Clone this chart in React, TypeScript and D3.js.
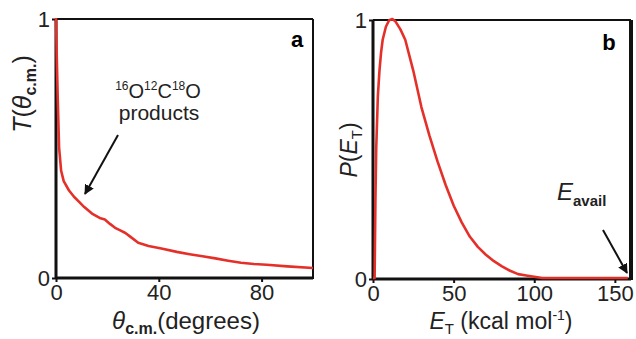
import React, { useEffect, useRef } from "react";
import * as d3 from "d3";

// panel a: angular distribution T(theta)
const thetaA = [0, 0.3, 0.7, 1.2, 2, 3, 5, 7, 9, 11, 14, 17, 19, 21, 23, 25, 27, 29, 32, 36, 41, 47, 52, 57, 62, 67, 72, 77, 82, 90, 100];
const tA = [1, 0.85, 0.68, 0.5, 0.41, 0.37, 0.335, 0.31, 0.29, 0.27, 0.245, 0.228, 0.222, 0.205, 0.19, 0.18, 0.17, 0.155, 0.132, 0.12, 0.11, 0.097, 0.088, 0.08, 0.072, 0.063, 0.055, 0.05, 0.047, 0.041, 0.035];

// panel b: translational energy distribution P(E_T)
const energyB = [0, 1, 1.5, 2, 3, 4, 5, 6, 8, 10, 12, 14, 17, 20, 25, 30, 35, 40, 45, 50, 55, 60, 65, 70, 75, 80, 85, 90, 95, 100, 105, 158];
const pB = [0, 0, 0.3, 0.5, 0.7, 0.8, 0.87, 0.92, 0.97, 0.995, 1, 0.99, 0.96, 0.92, 0.8, 0.66, 0.55, 0.45, 0.36, 0.28, 0.215, 0.16, 0.12, 0.09, 0.065, 0.045, 0.028, 0.015, 0.01, 0.005, 0, 0];

const ticksA = [0, 40, 80];
const ticksB = [0, 50, 100, 150];
const ticksY = [0, 1];

const RED = "#e5302a";
const FONT = "'Liberation Sans', Arial, sans-serif";

const App: React.FC = () => {
  const svgRef = useRef<SVGSVGElement | null>(null);

  useEffect(() => {
    const svg = d3.select(svgRef.current);
    svg.selectAll("*").remove();

    const defs = svg.append("defs");
    defs
      .append("marker")
      .attr("id", "arr")
      .attr("viewBox", "0 0 10 10")
      .attr("refX", 9)
      .attr("refY", 5)
      .attr("markerWidth", 5)
      .attr("markerHeight", 5)
      .attr("orient", "auto")
      .append("path")
      .attr("d", "M0,0L10,5L0,10z")
      .attr("fill", "#111");

    const panel = (
      left: number,
      right: number,
      top: number,
      bottom: number,
      xMax: number,
      xs: number[],
      ys: number[],
      ticks: number[],
      rightW: number
    ) => {
      const x = d3.scaleLinear().domain([0, xMax]).range([left, right]);
      const y = d3.scaleLinear().domain([0, 1]).range([bottom, top]);
      const g = svg.append("g");

      // frame: top/right thinner, left/bottom axes thicker
      g.append("line").attr("x1", left).attr("x2", right).attr("y1", top).attr("y2", top)
        .attr("stroke", "#111").attr("stroke-width", 2);
      g.append("line").attr("x1", right).attr("x2", right).attr("y1", top).attr("y2", bottom + 1)
        .attr("stroke", "#111").attr("stroke-width", rightW);

      const xAxis = g
        .append("g")
        .attr("transform", `translate(0,${bottom})`)
        .call(d3.axisBottom(x).tickValues(ticks).tickSize(4).tickFormat(d3.format("d")));
      xAxis.select(".domain").attr("stroke", "#111").attr("stroke-width", 3).attr("d", `M${left},0H${right}`);
      xAxis.selectAll(".tick line").attr("stroke", "#111").attr("stroke-width", 2);
      xAxis.selectAll(".tick text").attr("font-family", FONT).attr("font-size", 22).attr("fill", "#222").attr("dy", "0.92em").attr("y", 2);

      const yAxis = g
        .append("g")
        .attr("transform", `translate(${left},0)`)
        .call(d3.axisLeft(y).tickValues(ticksY).tickSize(4).tickFormat(d3.format("d")));
      yAxis.select(".domain").attr("stroke", "#111").attr("stroke-width", 3).attr("d", `M0,${bottom}V${top}`);
      yAxis.selectAll(".tick line").attr("stroke", "#111").attr("stroke-width", 2);
      yAxis.selectAll(".tick text").attr("font-family", FONT).attr("font-size", 22).attr("fill", "#222").attr("x", -6);

      const line = d3
        .line<number>()
        .x((_, i) => x(xs[i]))
        .y((d) => y(d) - 1);
      g.append("path")
        .datum(ys)
        .attr("d", line)
        .attr("fill", "none")
        .attr("stroke", RED)
        .attr("stroke-width", 2.6)
        .attr("stroke-linejoin", "round");

      return { x, y, g };
    };

    // ---- panel a
    const a = panel(56, 313, 19, 278, 100, thetaA, tA, ticksA, 2);
    a.g.append("text").attr("x", 297).attr("y", 47).attr("text-anchor", "middle")
      .attr("font-family", FONT).attr("font-size", 22).attr("font-weight", "bold").text("a");

    const yt = a.g.append("text")
      .attr("transform", "translate(31,94) rotate(-90)")
      .attr("text-anchor", "middle").attr("font-family", FONT).attr("font-size", 25).attr("fill", "#222");
    yt.append("tspan").attr("font-style", "italic").text("T");
    yt.append("tspan").text("(");
    yt.append("tspan").attr("font-style", "italic").text("θ");
    yt.append("tspan").attr("font-size", 16).attr("font-weight", "bold").attr("dy", 5).text("c.m.");
    yt.append("tspan").attr("dy", -5).text(")");

    const xt = a.g.append("text").attr("x", 186).attr("y", 329).attr("text-anchor", "middle")
      .attr("font-family", FONT).attr("font-size", 24).attr("fill", "#222");
    xt.append("tspan").attr("font-style", "italic").text("θ");
    xt.append("tspan").attr("font-size", 16).attr("font-weight", "bold").attr("dy", 5).text("c.m.");
    xt.append("tspan").attr("dy", -5).text("(degrees)");

    const iso = a.g.append("text").attr("x", 158).attr("y", 98).attr("text-anchor", "middle")
      .attr("font-family", FONT).attr("font-size", 20).attr("fill", "#222");
    [["16", "O"], ["12", "C"], ["18", "O"]].forEach(([m, el]) => {
      iso.append("tspan").attr("font-size", 12).attr("dy", -8).text(m);
      iso.append("tspan").attr("dy", 8).text(el);
    });
    a.g.append("text").attr("x", 159).attr("y", 120).attr("text-anchor", "middle")
      .attr("font-family", FONT).attr("font-size", 21).attr("fill", "#222").text("products");
    a.g.append("line").attr("x1", 118).attr("y1", 135).attr("x2", 85).attr("y2", 194)
      .attr("stroke", "#111").attr("stroke-width", 2).attr("marker-end", "url(#arr)");

    // ---- panel b
    const b = panel(373, 631, 20, 279, 160, energyB, pB, ticksB, 4);
    b.g.append("text").attr("x", 609).attr("y", 50).attr("text-anchor", "middle")
      .attr("font-family", FONT).attr("font-size", 22).attr("font-weight", "bold").text("b");

    const pt = b.g.append("text")
      .attr("transform", "translate(357,150) rotate(-90)")
      .attr("text-anchor", "middle").attr("font-family", FONT).attr("font-size", 23).attr("fill", "#222");
    pt.append("tspan").attr("font-style", "italic").text("P");
    pt.append("tspan").text("(");
    pt.append("tspan").attr("font-style", "italic").text("E");
    pt.append("tspan").attr("font-size", 15).attr("dy", 5).text("T");
    pt.append("tspan").attr("dy", -5).text(")");

    const et = b.g.append("text").attr("x", 501).attr("y", 329).attr("text-anchor", "middle")
      .attr("font-family", FONT).attr("font-size", 23).attr("fill", "#222");
    et.append("tspan").attr("font-style", "italic").text("E");
    et.append("tspan").attr("font-size", 15).attr("dy", 5).text("T");
    et.append("tspan").attr("dy", -5).text(" (kcal mol");
    et.append("tspan").attr("font-size", 14).attr("dy", -9).text("-1");
    et.append("tspan").attr("dy", 9).text(")");

    const ea = b.g.append("text").attr("x", 557).attr("y", 200)
      .attr("font-family", FONT).attr("font-size", 24).attr("fill", "#222");
    ea.append("tspan").attr("font-style", "italic").text("E");
    ea.append("tspan").attr("font-size", 15).attr("font-weight", "bold").attr("dy", 6).text("avail");
    b.g.append("line").attr("x1", 603).attr("y1", 230).attr("x2", 627).attr("y2", 273)
      .attr("stroke", "#111").attr("stroke-width", 2).attr("marker-end", "url(#arr)");
  }, []);

  return (
    <svg
      ref={svgRef}
      width={636}
      height={339}
      style={{ position: "absolute", left: 0, top: 0, background: "#fff" }}
    ></svg>
  );
};

export default App;
